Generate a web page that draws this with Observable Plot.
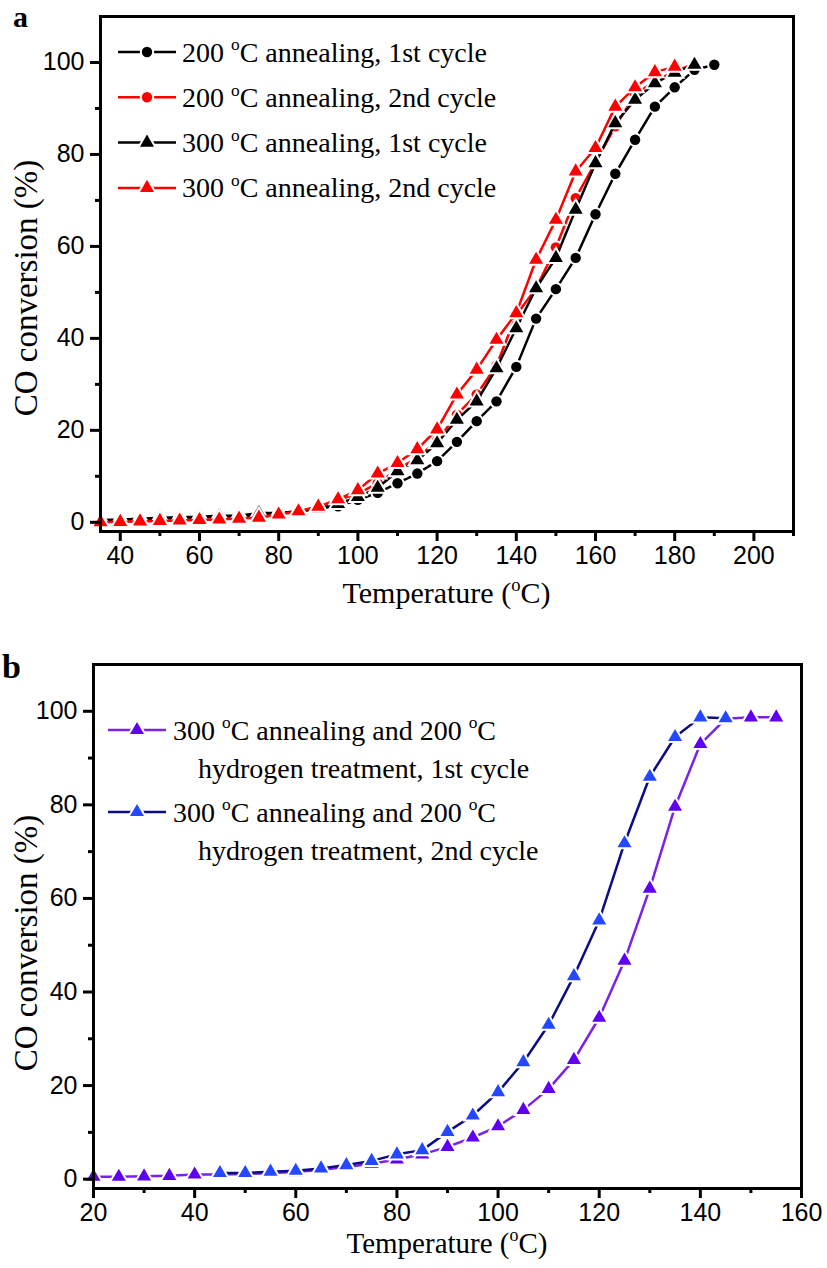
<!DOCTYPE html>
<html><head><meta charset="utf-8">
<script src="https://cdn.jsdelivr.net/npm/d3@7"></script>
<script src="https://cdn.jsdelivr.net/npm/@observablehq/plot@0.6"></script>
<style>
body{margin:0;background:#fff;}
#wrap{position:relative;width:827px;height:1268px;background:#fff;}
#wrap svg{position:absolute;left:0;}
</style></head><body><div id="wrap"></div>
<script>
// ---------- Panel a data ----------
const tempA200c1 = [35,40,45,50,55,60,65,70,75,80,85,90,95,100,105,110,115,120,125,130,135,140,145,150,155,160,165,170,175,180,185,190];
const convA200c1 = [0.2,0.3,0.5,0.6,0.8,0.9,1.0,1.2,1.5,1.8,2.3,3.0,3.5,4.9,6.4,8.5,10.6,13.3,17.5,22.0,26.3,33.8,44.3,50.7,57.5,67.0,75.8,83.2,90.4,94.6,98.4,99.5];
const tempA200c2 = [35,40,45,50,55,60,65,70,75,80,85,90,95,100,105,110,115,120,125,130,135,140,145,150,155,160,165,170,175,180,185];
const convA200c2 = [0.1,0.2,0.3,0.4,0.5,0.6,0.8,0.9,1.1,1.8,2.5,3.3,4.9,6.2,8.5,11.5,14.0,17.8,23.4,27.8,34.1,45.1,50.9,59.8,70.5,78.3,86.1,93.0,96.0,98.0,99.8];
const tempA300c1 = [35,40,45,50,55,60,65,70,75,80,85,90,95,100,105,110,115,120,125,130,135,140,145,150,155,160,165,170,175,180,185];
const convA300c1 = [0.5,0.6,0.8,1.0,1.1,1.2,1.4,1.5,2.0,2.0,2.4,3.0,4.0,5.5,7.5,11.1,13.5,17.2,22.3,26.3,33.5,42.2,50.9,57.5,68.0,78.1,86.8,91.9,95.5,97.8,99.5];
const tempA300c2 = [35,40,45,50,55,60,65,70,75,80,85,90,95,100,105,110,115,120,125,130,135,140,145,150,155,160,165,170,175,180];
const convA300c2 = [0.0,0.1,0.2,0.3,0.4,0.5,0.6,0.8,1.0,1.7,2.4,3.4,5.0,7.0,10.6,12.9,15.9,20.2,27.8,33.2,39.7,45.5,57.1,65.8,76.3,81.4,90.4,94.6,97.9,99.1];

// ---------- Panel b data ----------
const tempB1 = [20,25,30,35,40,45,50,55,60,65,70,75,80,85,90,95,100,105,110,115,120,125,130,135,140,145,150,155];
const convB1 = [0.5,0.5,0.6,0.7,1.0,1.0,1.1,1.3,1.5,2.0,2.6,3.3,4.2,5.3,6.9,8.9,11.3,14.8,19.3,25.5,34.5,46.7,62.1,79.6,93.0,98.4,98.7,98.7];
const tempB2 = [45,50,55,60,65,70,75,80,85,90,95,100,105,110,115,120,125,130,135,140,145];
const convB2 = [1.3,1.3,1.6,1.8,2.3,3.0,3.9,5.3,6.2,10.1,13.6,18.6,25.0,33.0,43.4,55.3,71.8,86.0,94.5,98.7,98.5];

// ---------- ticks & labels ----------
const xMajorA = [40,60,80,100,120,140,160,180,200];
const xMinorA = [50,70,90,110,130,150,170,190,210];
const xMajorB = [20,40,60,80,100,120,140,160];
const xMinorB = [30,50,70,90,110,130,150];
const yMajor = [0,20,40,60,80,100];
const yMinor = [10,30,50,70,90];

const legendA = [
  ["200 ", "o", "C annealing, 1st cycle"],
  ["200 ", "o", "C annealing, 2nd cycle"],
  ["300 ", "o", "C annealing, 1st cycle"],
  ["300 ", "o", "C annealing, 2nd cycle"]
];
const legendB = [
  [["300 ", "o", "C annealing and 200 ", "o", "C"], "hydrogen treatment, 1st cycle"],
  [["300 ", "o", "C annealing and 200 ", "o", "C"], "hydrogen treatment, 2nd cycle"]
];
const xTitle = ["Temperature (", "o", "C)"];
const yTitle = "CO conversion (%)";

function rows(t, v){ return t.map((d,i)=>({T:d, v:v[i]})); }

const seriesA = [
  {data: rows(tempA200c1, convA200c1), line:"#000000", fill:"#000000", symbol:"circle"},
  {data: rows(tempA200c2, convA200c2), line:"#ff0000", fill:"#ff0000", symbol:"circle"},
  {data: rows(tempA300c1, convA300c1), line:"#000000", fill:"#000000", symbol:"triangle"},
  {data: rows(tempA300c2, convA300c2), line:"#ff0000", fill:"#ff0000", symbol:"triangle"}
];
const seriesB = [
  {data: rows(tempB1, convB1), line:"#7a22e6", fill:"#5f00f0", symbol:"triangle"},
  {data: rows(tempB2, convB2), line:"#0c0c86", fill:"#2448ff", symbol:"triangle"}
];

function seriesMarks(series){
  const m = [];
  for (const s of series){
    m.push(Plot.line(s.data, {x:"T", y:"v", stroke:s.line, strokeWidth:2.5}));
    m.push(Plot.dot(s.data, {x:"T", y:"v", symbol:s.symbol, r:5.2, fill:s.fill, stroke:"white", strokeWidth:4, paintOrder:"stroke"}));
  }
  return m;
}
function axisMarks(xMaj, xMin){
  return [
    Plot.axisX(xMaj, {tickSize:10, strokeWidth:3, tickPadding:5, label:null, fontSize:25}),
    Plot.axisX(xMin, {tickSize:5, strokeWidth:3, tickFormat:()=>"", label:null}),
    Plot.axisY(yMajor, {tickSize:10, strokeWidth:3, tickPadding:6, label:null, fontSize:25}),
    Plot.axisY(yMinor, {tickSize:5, strokeWidth:3, tickFormat:()=>"", label:null}),
    Plot.frame({strokeWidth:3, stroke:"black"})
  ];
}

function richText(sel, parts, fs){
  const supFs = fs*0.62, up = fs*0.40;
  let sup = false;
  parts.forEach(p => {
    const ts = sel.append("tspan").text(p);
    if (p === "o"){ ts.attr("font-size", supFs).attr("dy", -up); sup = true; }
    else if (sup){ ts.attr("font-size", fs).attr("dy", up); sup = false; }
  });
}

function legendMarker(g, x1, x2, y, s){
  g.append("line").attr("x1",x1).attr("x2",x2).attr("y1",y).attr("y2",y).attr("stroke",s.line).attr("stroke-width",2.5);
  const sym = d3.symbol(s.symbol === "circle" ? d3.symbolCircle : d3.symbolTriangle, Math.PI*5.2*5.2)();
  g.append("path").attr("d", sym).attr("transform",`translate(${(x1+x2)/2},${y})`)
    .attr("fill", s.fill).attr("stroke","white").attr("stroke-width",4).attr("paint-order","stroke");
}

const wrap = document.getElementById("wrap");
const W = 827;

// ---------- Panel a ----------
const hA = 640;
const plotA = Plot.plot({
  width: W, height: hA,
  marginLeft: 100, marginRight: 34, marginTop: 16, marginBottom: hA - 531,
  x: {domain:[35,210]},
  y: {domain:[-2,110]},
  style: {fontFamily:"'Liberation Sans', Arial, sans-serif", fontSize:"25px", color:"black", background:"white", overflow:"visible"},
  marks: [...seriesMarks(seriesA), ...axisMarks(xMajorA, xMinorA)]
});
plotA.style.top = "0px";
wrap.appendChild(plotA);

// ---------- Panel b ----------
const hB = 628;
const topB = 640;
const plotB = Plot.plot({
  width: W, height: hB,
  marginLeft: 93, marginRight: W - 801, marginTop: 664 - topB, marginBottom: hB - (1188 - topB),
  x: {domain:[20,160]},
  y: {domain:[-2,110]},
  style: {fontFamily:"'Liberation Sans', Arial, sans-serif", fontSize:"25px", color:"black", background:"white", overflow:"visible"},
  marks: [...seriesMarks(seriesB), ...axisMarks(xMajorB, xMinorB)]
});
plotB.style.top = topB + "px";
wrap.appendChild(plotB);

const serif = "'Liberation Serif', 'Times New Roman', serif";

function txt(svg, x, y, size, anchor){
  return svg.append("text").attr("x",x).attr("y",y).attr("font-family",serif).attr("font-size",size)
    .attr("fill","black").attr("text-anchor",anchor || "start");
}

// decorations panel a
(function(){
  const svg = d3.select(plotA);
  txt(svg, 13, 27, 30).attr("font-weight","bold").text("a");
  richText(txt(svg, 446.5, 603, 30, "middle"), xTitle, 30);
  svg.append("text").attr("transform","translate(37,288) rotate(-90)").attr("text-anchor","middle")
    .attr("font-family",serif).attr("font-size",33).attr("fill","black").text(yTitle);
  const g = svg.append("g");
  legendA.forEach((parts, i) => {
    const y = 52 + i*45.3;
    legendMarker(g, 118, 176, y, seriesA[i]);
    richText(txt(g, 182, y + 9.5, 28), parts, 28);
  });
})();

// decorations panel b
(function(){
  const svg = d3.select(plotB);
  txt(svg, 2, 38, 34).attr("font-weight","bold").text("b");
  richText(txt(svg, 447, 613, 29, "middle"), xTitle, 29);
  svg.append("text").attr("transform","translate(37,303) rotate(-90)").attr("text-anchor","middle")
    .attr("font-family",serif).attr("font-size",33).attr("fill","black").text(yTitle);
  const g = svg.append("g");
  legendB.forEach((item, i) => {
    const y = 90 + i*82;
    legendMarker(g, 108, 166, y, seriesB[i]);
    richText(txt(g, 173, y + 9.5, 28), item[0], 28);
    txt(g, 198, y + 47.5, 28).text(item[1]);
  });
})();
</script></body></html>
